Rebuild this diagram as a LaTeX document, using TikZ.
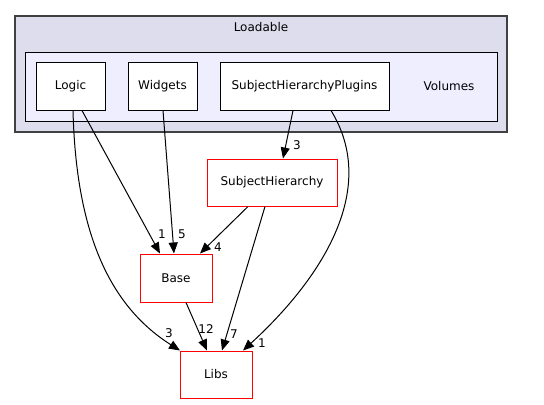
\documentclass[tikz,border=0pt]{standalone}
\usepackage{fontspec}
\setmainfont{DejaVu Sans}
\usetikzlibrary{arrows.meta}
\definecolor{outerfill}{HTML}{DDDDEE}
\definecolor{innerfill}{HTML}{EEEEFF}
\definecolor{outerline}{HTML}{404040}
\begin{document}
\begin{tikzpicture}[x=1bp,y=-1bp,
  every node/.style={font=\fontsize{12bp}{14bp}\selectfont, inner sep=0pt},
  dirbox/.style={draw=black, fill=white, line width=1bp, minimum height=48bp},
  redbox/.style={draw=red, fill=white, line width=1bp, minimum height=48bp},
  edge/.style={draw=black, line width=1bp, -{Triangle[length=11bp,width=9bp]}},
  lbl/.style={font=\fontsize{12bp}{14bp}\selectfont}]
\useasboundingbox (0,0) rectangle (544,404);
% clusters
\draw[fill=outerfill, draw=outerline, line width=1.5bp] (15,16) rectangle (507,132);
\node (loadable) at (261,27) {Loadable};
\draw[fill=innerfill, draw=black, line width=1bp] (25,52) rectangle (497,121);
\node (volumes) at (449,86) {Volumes};
% nodes
\node[dirbox, minimum width=69bp] (logic) at (70.5,86) {Logic};
\node[dirbox, minimum width=69bp] (widgets) at (162.5,86) {Widgets};
\node[dirbox, minimum width=169bp] (shp) at (304.5,86) {SubjectHierarchyPlugins};
\node[redbox, minimum width=130bp, minimum height=47bp] (sh) at (272,182.5) {SubjectHierarchy};
\node[redbox, minimum width=72bp] (base) at (176,278) {Base};
\node[redbox, minimum width=72bp, minimum height=47bp] (libs) at (216,374.5) {Libs};
% edges
\draw[edge] ([xshift=2.5bp]logic.south) .. controls (76,230) and (108,305) .. ([xshift=-36bp]libs.north);
\draw[edge] ([xshift=11.5bp]logic.south) -- ([xshift=-16bp]base.north);
\draw[edge] ([xshift=0.5bp]widgets.south) -- ([xshift=-2bp]base.north);
\draw[edge] ([xshift=-11.5bp]shp.south) -- ([xshift=11bp]sh.north);
\draw[edge] ([xshift=26.5bp]shp.south) .. controls (380,190) and (320,280) .. ([xshift=27bp]libs.north);
\draw[edge] ([xshift=-24bp]sh.south) -- ([xshift=24bp]base.north);
\draw[edge] ([xshift=-7bp]sh.south) -- ([xshift=6bp]libs.north);
\draw[edge] ([xshift=10bp]base.south) -- ([xshift=-9bp]libs.north);
% labels
\node[lbl] (l1) at (169,333) {3};
\node[lbl] (l2) at (162,234) {1};
\node[lbl] (l3) at (182,234) {5};
\node[lbl] (l4) at (297,145) {3};
\node[lbl] (l5) at (262,343) {1};
\node[lbl] (l6) at (218,247) {4};
\node[lbl] (l7) at (234,334) {7};
\node[lbl] (l8) at (206,329) {12};
\end{tikzpicture}
\end{document}
